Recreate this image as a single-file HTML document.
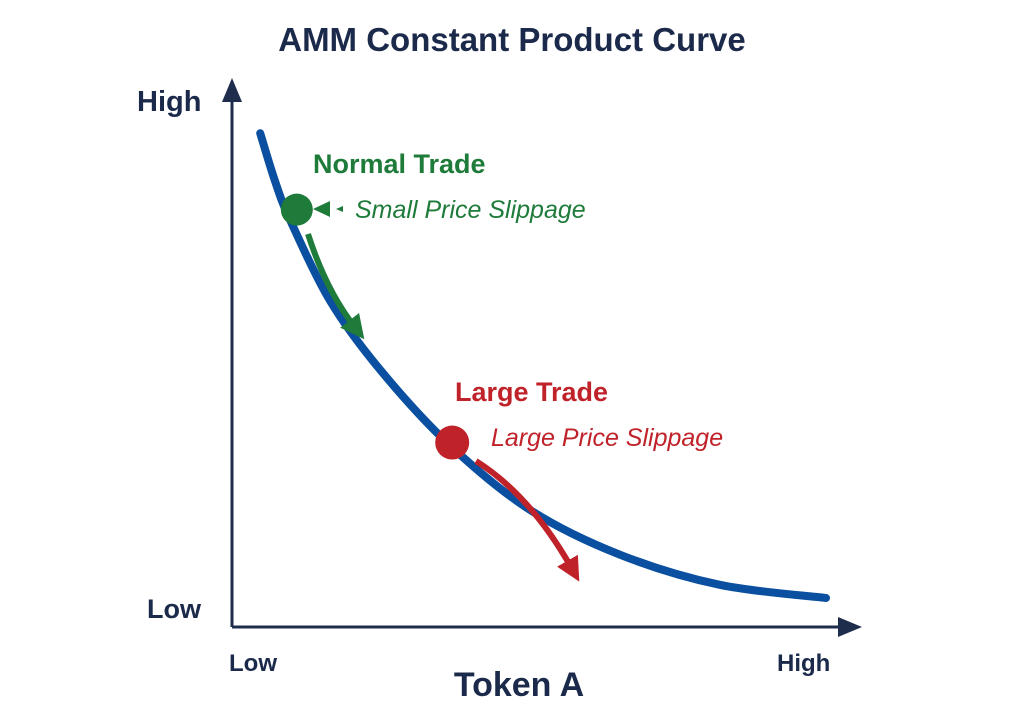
<!DOCTYPE html>
<html><head><meta charset="utf-8"><style>
html,body{margin:0;padding:0;background:#fff;}
svg{display:block;font-family:"Liberation Sans","DejaVu Sans",sans-serif;}
</style></head><body>
<svg id="chart" width="1024" height="720" viewBox="0 0 1024 720">
<defs>
<marker id="ga" viewBox="0 0 10 10" refX="3" refY="5" markerWidth="4" markerHeight="4" orient="auto"><path d="M0,0 L10,5 L0,10 z" fill="#1e7b3a"/></marker>
<marker id="ra" viewBox="0 0 10 10" refX="3" refY="5" markerWidth="4" markerHeight="4" orient="auto"><path d="M0,0 L10,5 L0,10 z" fill="#c0222a"/></marker>
</defs>
<text x="512" y="51" text-anchor="middle" font-size="33" font-weight="bold" fill="#1b2a4a">AMM Constant Product Curve</text>
<line x1="232" y1="627" x2="232" y2="95" stroke="#1f2d4d" stroke-width="3"/>
<path d="M222,102 L232,78 L242,102 z" fill="#1f2d4d"/>
<line x1="232" y1="627" x2="845" y2="627" stroke="#1f2d4d" stroke-width="3"/>
<path d="M838,617 L862,627 L838,637 z" fill="#1f2d4d"/>
<text x="137" y="111" font-size="29" font-weight="bold" fill="#1b2a4a">High</text>
<text x="147" y="618" font-size="27" font-weight="bold" fill="#1b2a4a">Low</text>
<text x="229" y="671" font-size="24" font-weight="bold" fill="#1b2a4a">Low</text>
<text x="777" y="671" font-size="24" font-weight="bold" fill="#1b2a4a">High</text>
<text x="519" y="696" text-anchor="middle" font-size="34" font-weight="bold" fill="#1b2a4a">Token A</text>
<g id="plot"></g>
<text x="313" y="173" font-size="27" font-weight="bold" fill="#1e7b3a">Normal Trade</text>
<text x="355" y="218" font-size="25" font-style="italic" fill="#1e7b3a">Small Price Slippage</text>
<text x="455" y="401" font-size="27" font-weight="bold" fill="#c0222a">Large Trade</text>
<text x="491" y="446" font-size="25" font-style="italic" fill="#c0222a">Large Price Slippage</text>
<path d="M313,209 L330,201 L330,217 z" fill="#1e7b3a"/>
<path d="M336,209 L343,206 L343,212 z" fill="#1e7b3a"/>
<path d="M308,234 Q326,290 354,326" fill="none" stroke="#1e7b3a" stroke-width="6" marker-end="url(#ga)"/>
<path d="M476,461 Q530,495 571,567" fill="none" stroke="#c0222a" stroke-width="6" marker-end="url(#ra)"/>
</svg>
<script>
const curveX = [0.47, 0.72, 0.97, 1.63, 2.47, 3.63, 4.97, 6.47, 8.13, 9.9];
const curveY = [9.37, 8.45, 7.72, 6.2, 4.88, 3.45, 2.22, 1.37, 0.8, 0.55];
const tradeLabels = ["normal-trade-point", "large-trade-point"];
const tradeX = [1.08, 3.67];
const tradeY = [7.92, 3.5];
function sx(v){ return 232 + v * 60; }
function sy(v){ return 627 - v * 52.7; }
const g = document.getElementById('plot');
const NS = 'http://www.w3.org/2000/svg';
const pts = curveX.map((x,i)=>[sx(x), sy(curveY[i])]);
let d = 'M' + pts[0][0] + ',' + pts[0][1];
for (let i = 0; i < pts.length - 1; i++) {
  const p0 = pts[Math.max(0,i-1)], p1 = pts[i], p2 = pts[i+1], p3 = pts[Math.min(pts.length-1,i+2)];
  const c1x = p1[0] + (p2[0]-p0[0])/6, c1y = p1[1] + (p2[1]-p0[1])/6;
  const c2x = p2[0] - (p3[0]-p1[0])/6, c2y = p2[1] - (p3[1]-p1[1])/6;
  d += ' C' + c1x + ',' + c1y + ' ' + c2x + ',' + c2y + ' ' + p2[0] + ',' + p2[1];
}
const path = document.createElementNS(NS, 'path');
path.setAttribute('d', d);
path.setAttribute('fill', 'none');
path.setAttribute('stroke', '#0a4fa0');
path.setAttribute('stroke-width', '8');
path.setAttribute('stroke-linecap', 'round');


g.appendChild(path);
const colors = ['#1e7b3a', '#c0222a'];
const radii = [16, 17];
tradeX.forEach((x,i)=>{
  const c = document.createElementNS(NS, 'circle');
  c.setAttribute('cx', sx(x));
  c.setAttribute('cy', sy(tradeY[i]));
  c.setAttribute('r', radii[i]);
  c.setAttribute('fill', colors[i]);
  
  
  g.appendChild(c);
});
</script>
</body></html>
